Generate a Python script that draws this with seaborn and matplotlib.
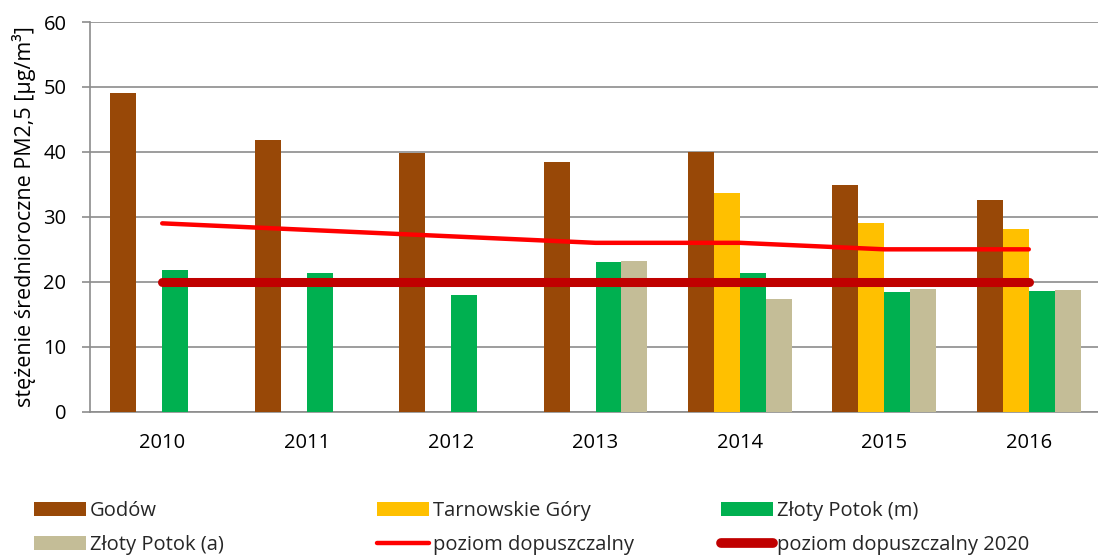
import numpy as np
import pandas as pd
import matplotlib
matplotlib.use("Agg")
import matplotlib.pyplot as plt
from matplotlib.patches import Patch
from matplotlib.lines import Line2D
import seaborn as sns

years = ["2010", "2011", "2012", "2013", "2014", "2015", "2016"]
series = ["Godów", "Tarnowskie Góry", "Złoty Potok (m)", "Złoty Potok (a)"]
godow = [49.0, 41.9, 39.9, 38.4, 40.0, 34.9, 32.6]
tarnowskie_gory = [np.nan, np.nan, np.nan, np.nan, 33.7, 29.1, 28.2]
zloty_potok_m = [21.8, 21.3, 17.9, 23.0, 21.3, 18.5, 18.6]
zloty_potok_a = [np.nan, np.nan, np.nan, 23.2, 17.3, 18.9, 18.7]
limit = [29, 28, 27, 26, 26, 25, 25]
limit_2020 = [20, 20, 20, 20, 20, 20, 20]

colors = ["#984807", "#FFC000", "#00B050", "#C4BD97"]
red = "#FF0000"
dark_red = "#C00000"
grid_gray = "#8C8C8C"

rows = []
for name, vals in zip(series, [godow, tarnowskie_gory, zloty_potok_m, zloty_potok_a]):
    for y, v in zip(years, vals):
        rows.append({"rok": y, "seria": name, "wartosc": v})
df = pd.DataFrame(rows).dropna()

sns.set_theme(style="white")
plt.rcParams["font.family"] = ["Open Sans", "DejaVu Sans"]

fig = plt.figure(figsize=(10.98, 5.57), dpi=100)
ax = fig.add_axes([90 / 1098, 1 - 411.7 / 557, 1011 / 1098, (411.7 - 22) / 557])

sns.barplot(data=df, x="rok", y="wartosc", hue="seria", order=years,
            hue_order=series, palette=colors, width=0.72, dodge=True,
            errorbar=None, saturation=1, legend=False, linewidth=0,
            ax=ax, zorder=3)

xs = np.arange(len(years))
ax.plot(xs, limit, color=red, lw=3.2, solid_capstyle="round", zorder=4)
ax.plot(xs, limit_2020, color=dark_red, lw=6.5, solid_capstyle="round", zorder=5)

ax.set_xlim(-0.5, 6.5)
ax.set_ylim(0, 60)
ax.set_yticks(range(0, 61, 10))
ax.yaxis.grid(True, color=grid_gray, lw=1.2, zorder=0)
ax.set_axisbelow(True)

for side in ["top", "right"]:
    ax.spines[side].set_visible(False)
for side in ["left", "bottom"]:
    ax.spines[side].set_color(grid_gray)
    ax.spines[side].set_linewidth(1.2)

ax.set_xticks(xs)
ax.set_xticklabels(years)
ax.set_xticks(np.arange(-0.5, 7.0, 1.0), minor=True)
ax.tick_params(axis="x", which="major", length=0, pad=15, labelsize=14.5, colors="black")
ax.tick_params(axis="x", which="minor", length=6, width=1.2, color=grid_gray, direction="out")
ax.tick_params(axis="y", which="major", length=6, width=1.2, color=grid_gray,
               direction="out", labelsize=14.5, pad=11, left=True, labelcolor="black")
ax.set_xlabel("")
ax.set_ylabel("stężenie średnioroczne PM2,5 [µg/m³]", fontsize=15.5, color="black")
ax.yaxis.set_label_coords(-0.053, 0.5)

# legend laid out as three columns of two entries
handles = [
    Patch(facecolor=colors[0], edgecolor="none"),
    Patch(facecolor=colors[3], edgecolor="none"),
    Patch(facecolor=colors[1], edgecolor="none"),
    Line2D([0], [0], color=red, lw=3.2, solid_capstyle="round"),
    Patch(facecolor=colors[2], edgecolor="none"),
    Line2D([0], [0], color=dark_red, lw=7.0, solid_capstyle="round"),
]
labels = ["Godów", "Złoty Potok (a)", "Tarnowskie Góry", "poziom dopuszczalny",
          "Złoty Potok (m)", "poziom dopuszczalny 2020"]
fs_pt = 14.5
fs_px = fs_pt * 100 / 72
col_x = [34 / 1098, 377 / 1098, 721 / 1098]
for i, cx in enumerate(col_x):
    fig.legend(handles=handles[2 * i:2 * i + 2], labels=labels[2 * i:2 * i + 2],
               loc="center left", bbox_to_anchor=(cx, 1 - 528 / 557), ncol=1,
               frameon=False, handlelength=52 / fs_px, handleheight=14 / fs_px,
               handletextpad=4 / fs_px, labelspacing=0.7, borderaxespad=0, borderpad=0,
               prop={"family": ["Open Sans", "DejaVu Sans"], "size": fs_pt})

fig.savefig("out.png", dpi=100)
